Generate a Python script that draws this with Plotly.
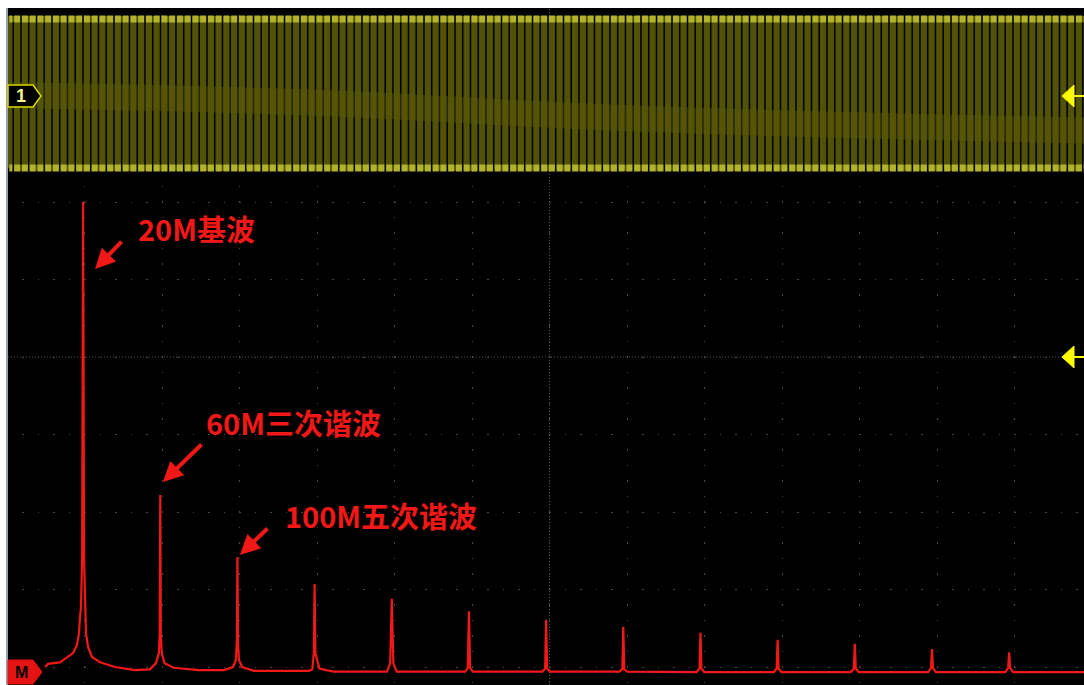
import numpy as np
import plotly.graph_objects as go

# ---------------- data ----------------
# FFT spectrum (frequency in MHz, level in screen divisions, 0 = centre line)
spec_freq_mhz = [0.3, 1.8, 8.0, 11.7, 14.8, 16.8, 17.9, 18.4, 18.9, 19.5, 20.0, 20.5, 21.0, 21.5, 22.6,
                 24.6, 28.8, 36.5, 46.9, 54.7, 57.8, 59.3, 59.7, 60.0, 60.3, 60.8, 62.2, 66.9, 80.0,
                 93.0, 97.7, 99.2, 99.7, 100.0, 100.3, 100.8, 102.4, 108.6, 137.0, 138.8, 139.6, 140.0,
                 140.4, 141.2, 142.5, 146.0, 150.0, 177.5, 179.2, 180.0, 180.8, 182.5, 218.0, 219.4,
                 220.0, 220.6, 222.0, 258.0, 259.5, 260.0, 260.5, 262.0, 298.0, 299.5, 300.0, 300.5,
                 302.0, 338.0, 339.5, 340.0, 340.5, 342.0, 378.0, 379.5, 380.0, 380.5, 382.0, 418.0,
                 419.5, 420.0, 420.5, 422.0, 458.0, 459.5, 460.0, 460.5, 462.0, 498.0, 499.5, 500.0,
                 500.5, 502.0, 538.8]
spec_level_div = [-4.00, -3.96, -3.94, -3.88, -3.82, -3.72, -3.56, -3.36, -3.23, -2.59, 2.00, -2.59, -3.30,
                  -3.56, -3.74, -3.87, -3.94, -4.00, -4.04, -4.03, -3.95, -3.82, -3.59, -1.78, -3.59,
                  -3.82, -3.95, -4.01, -4.04, -4.04, -4.00, -3.91, -3.65, -2.58, -3.70, -3.91, -4.00,
                  -4.05, -4.05, -4.03, -3.82, -2.93, -3.82, -3.90, -4.02, -4.04, -4.06, -4.06, -3.95,
                  -3.12, -3.95, -4.06, -4.06, -4.01, -3.28, -4.01, -4.06, -4.06, -4.02, -3.39, -4.02,
                  -4.06, -4.06, -4.03, -3.48, -4.03, -4.06, -4.065, -4.02, -3.56, -4.02, -4.065,
                  -4.065, -4.02, -3.65, -4.02, -4.065, -4.065, -4.02, -3.70, -4.02, -4.065, -4.065,
                  -4.01, -3.77, -4.01, -4.065, -4.065, -4.01, -3.81, -4.01, -4.065, -4.065]

# Channel 1 time-domain trace: one measured period of the 20 MHz square wave (time in divisions)
ch1_period_t_div = [0.0, 0.0, 0.1, 0.1]
ch1_high_div = 4.36
ch1_low_div = 2.44
ch1_period_levels = [ch1_low_div, ch1_high_div, ch1_high_div, ch1_low_div]
ch1_period_len_div = 0.2
ch1_n_periods = 70
ch1_phase_div = 0.03
# brighter aliasing band drifting across the trace (time div, level div)
alias_t_div = [0.0, 4.0, 8.0, 14.0]
alias_level_div = [3.38, 3.28, 3.08, 2.92]

labels = ["20M基波", "60M三次谐波", "100M五次谐波"]
label_freq_mhz = [47.6, 82.6, 123.4]
label_level_div = [1.665, -0.839, -2.039]
arrow_freq_mhz = [26.2, 61.4, 101.3]
arrow_level_div = [1.135, -1.613, -2.555]
arrow_dx_px = [28, 40, 29]
arrow_dy_px = [-29, -39, -28]

# ---------------- figure ----------------
RED = "#f31818"
W, H = 1084, 685
L, T = 8, 8
PW, PH = W - L, H - T


def px(xp):
    return (xp - L) / PW


def py(yp):
    return (H - yp) / PH


ch1_t = (np.array(ch1_period_t_div)[None, :] +
         ch1_period_len_div * np.arange(ch1_n_periods)[:, None]).ravel() + ch1_phase_div
ch1_v = np.tile(ch1_period_levels, ch1_n_periods)
ch1_span = [ch1_phase_div, ch1_phase_div + ch1_period_len_div * ch1_n_periods]

fig = go.Figure()
fig.add_trace(go.Scatter(x=ch1_t, y=ch1_v, mode="lines",
                         line=dict(color="rgb(82,82,4)", width=6.2), hoverinfo="skip"))
fig.add_trace(go.Scatter(x=alias_t_div, y=alias_level_div, mode="lines",
                         line=dict(color="rgba(90,90,8,0.42)", width=26, shape="spline"),
                         hoverinfo="skip"))
for lvl in (ch1_high_div, ch1_low_div):
    fig.add_trace(go.Scatter(x=ch1_span, y=[lvl, lvl], mode="lines",
                             line=dict(color="rgb(178,178,45)", width=7,
                                       dash="3.1px,1.75px,2.9px,0px"),
                             hoverinfo="skip"))
fig.add_trace(go.Scatter(x=spec_freq_mhz, y=spec_level_div, mode="lines", xaxis="x2", yaxis="y",
                         line=dict(color=RED, width=2.2), hoverinfo="skip"))

shapes = [
    # centre cross (denser dots)
    dict(type="line", xref="x", yref="paper", x0=7, x1=7, y0=0, y1=1,
         line=dict(color="rgb(80,80,80)", width=1, dash="1px,2px"), layer="below"),
    dict(type="line", xref="paper", yref="y", x0=0, x1=1, y0=0, y1=0,
         line=dict(color="rgb(80,80,80)", width=1, dash="1px,2px"), layer="below"),
]


def path(points):
    s = "M " + " L ".join(f"{px(a):.5f},{py(b):.5f}" for a, b in points) + " Z"
    return s


# channel 1 marker
shapes.append(dict(type="path", xref="paper", yref="paper",
                   path=path([(8, 85), (33, 85), (41, 96), (33, 107), (8, 107)]),
                   fillcolor="black", line=dict(color="#d8d800", width=1.5)))
# math marker
shapes.append(dict(type="path", xref="paper", yref="paper",
                   path=path([(8, 660), (33, 660), (42, 672), (33, 684), (8, 684)]),
                   fillcolor="#e41414", line=dict(color="#e41414", width=1)))
# right side yellow arrows
for yc in (96, 357):
    shapes.append(dict(type="path", xref="paper", yref="paper",
                       path=path([(1062, yc), (1074, yc - 11), (1074, yc + 11)]),
                       fillcolor="#ffff00", line=dict(color="#ffff00", width=1)))
    shapes.append(dict(type="line", xref="paper", yref="paper",
                       x0=px(1074), x1=px(1084), y0=py(yc), y1=py(yc),
                       line=dict(color="#ffff00", width=2)))

annotations = [
    dict(text="<b>1</b>", xref="paper", yref="paper", x=px(21), y=py(96), showarrow=False,
         font=dict(family="Liberation Sans", size=18, color="#f4f488"), xanchor="center", yanchor="middle"),
    dict(text="<b>M</b>", xref="paper", yref="paper", x=px(21), y=py(672), showarrow=False,
         font=dict(family="Liberation Sans", size=16, color="black"), xanchor="center", yanchor="middle"),
]
for txt, fx, fy in zip(labels, label_freq_mhz, label_level_div):
    annotations.append(dict(text=txt, xref="x2", yref="y", x=fx, y=fy, showarrow=False,
                            xanchor="left", yanchor="middle",
                            font=dict(family="Noto Sans CJK SC", size=29, color=RED, weight="bold")))
for fx, fy, dx, dy in zip(arrow_freq_mhz, arrow_level_div, arrow_dx_px, arrow_dy_px):
    annotations.append(dict(text="", xref="x2", yref="y", x=fx, y=fy, ax=dx, ay=dy,
                            showarrow=True, arrowhead=2, arrowsize=1.0, arrowwidth=4,
                            arrowcolor=RED, standoff=0))

fig.update_layout(
    width=W, height=H,
    margin=dict(l=L, r=0, t=T, b=0, pad=0),
    paper_bgcolor="white", plot_bgcolor="black",
    showlegend=False,
    xaxis=dict(range=[(8 - 7) / 77.5, (1084 - 7) / 77.5], tick0=0, dtick=1,
               showgrid=True, gridcolor="rgb(72,72,72)", gridwidth=1,
               griddash="0px,7.25px,1.5px,6.75px",
               zeroline=False, showticklabels=False, ticks="", showline=False, fixedrange=True),
    xaxis2=dict(range=[-18.92, 538.8], overlaying="x", anchor="y", visible=False, fixedrange=True),
    yaxis=dict(range=[(357 - 685) / 77.5, (357 - 8) / 77.5], tick0=0, dtick=1,
               showgrid=True, gridcolor="rgb(72,72,72)", gridwidth=1,
               griddash="0px,14px,1.5px,0px",
               zeroline=False, showticklabels=False, ticks="",
               showline=True, linecolor="rgb(150,160,175)", linewidth=2, fixedrange=True),
    shapes=shapes,
    annotations=annotations,
)

fig.write_html("out.html")
